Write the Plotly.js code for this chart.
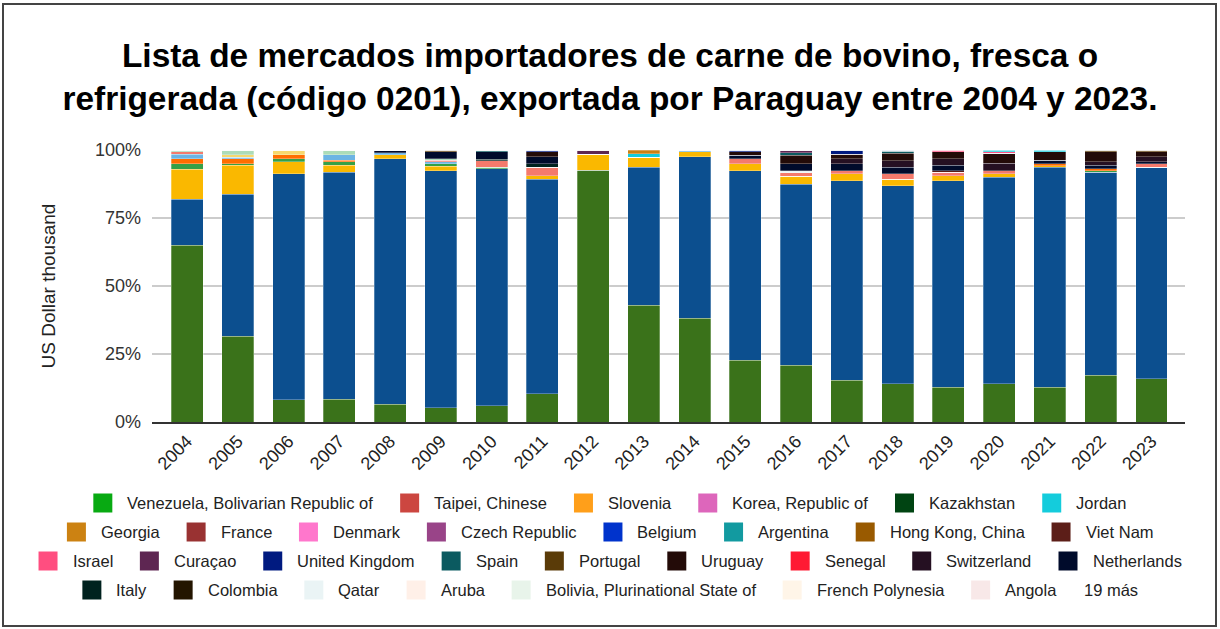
<!DOCTYPE html>
<html>
<head>
<meta charset="utf-8">
<script src="https://cdn.plot.ly/plotly-3.0.1.min.js"></script>
<style>
html,body{margin:0;padding:0;background:#ffffff;}
#chart{width:1220px;height:629px;}
</style>
</head>
<body>
<div id="chart"></div>
<script>
// ---------------- DATA (shares of each year's total, %) ----------------
const years = ['2004','2005','2006','2007','2008','2009','2010','2011','2012','2013',
               '2014','2015','2016','2017','2018','2019','2020','2021','2022','2023'];

// main markets (hidden inside "19 más")
const brazil      = [65.0,31.6, 8.1, 8.3, 6.5, 5.2, 5.9,10.3,92.6,43.0,38.2,22.7,20.8,15.3,14.1,12.7,14.1,12.7,17.2,15.9];
const chile       = [16.9,52.2,83.1,83.6,90.2,87.2,87.2,79.0, 0.0,50.6,59.3,69.7,66.7,73.4,72.8,76.0,75.8,80.9,74.6,77.7];
const russia      = [11.1,10.6, 4.4, 2.5, 1.5, 1.7, 0.0, 1.3, 5.9, 3.8, 1.8, 2.5, 2.9, 2.5, 2.4, 1.9, 1.3, 0.6, 0.0, 0.0];
const lebanon     = [ 1.9, 0.5, 1.1, 1.2, 0.0, 0.8, 0.5, 0.0, 0.0, 0.0, 0.0, 0.0, 0.0, 0.0, 0.0, 0.0, 0.0, 0.0, 0.5, 0.0];
const peru        = [ 1.8, 1.8, 1.5, 0.7, 0.0, 0.0, 0.0, 0.0, 0.0, 0.0, 0.0, 0.0, 0.0, 0.0, 0.0, 0.0, 0.0, 0.7, 0.8, 0.0];
const kuwait      = [ 1.8, 0.7, 0.0, 1.9, 0.8, 0.7, 0.0, 0.0, 0.0, 0.0, 0.7, 0.0, 0.0, 0.0, 0.0, 0.0, 0.0, 0.0, 0.0, 0.0];
const egypt       = [ 0.8, 0.0, 0.0, 0.0, 0.0, 0.7, 2.5, 3.0, 0.0, 0.0, 0.0, 1.8, 1.3, 1.2, 1.9, 1.3, 1.2, 0.0, 0.0, 1.3];
const ecuador     = [ 0.0, 0.8, 1.8, 0.0, 0.0, 0.0, 0.0, 0.0, 0.0, 0.0, 0.0, 0.0, 0.0, 0.0, 0.0, 0.0, 0.0, 0.0, 0.0, 0.0];
const mexico      = [ 0.7, 1.8, 0.0, 1.8, 0.0, 0.5, 0.0, 0.0, 0.0, 0.0, 0.0, 0.0, 0.0, 0.0, 0.0, 0.0, 0.0, 0.0, 0.0, 0.0];
// markets shown in the legend
const qatar       = [ 0,0,0,0,0,0,0,0,0,0,0,0,0.7,0,0,0,0,0,0,0];
const vietNam     = [ 0,0,0,0,0,0,0,0,0,0,0,0,0,0,0,0.5,0,0,0,0];
const italy       = [ 0,0,0,0,0,0,0.5,1.3,0,0,0,0,0,0,0,0,0,0,0,0];
const netherlands = [ 0,0,0,0,1.0,2.5,2.7,2.6,0,0,0,1.3,2.5,2.5,2.4,2.0,0,1.4,1.3,0.7];
const switzerland = [ 0,0,0,0,0,0,0,0,0,0,0,0,0,1.9,2.5,2.4,2.7,0,1.2,1.9];
const uruguay     = [ 0,0,0,0,0,0,0,1.8,0,0,0,1.3,3.1,1.7,2.7,2.5,3.7,3.0,3.7,1.8];
const spain       = [ 0,0,0,0,0,0,0.7,0,0,0,0,0,1.0,0,0.7,0,0,0,0,0];
const curacao     = [ 0,0,0,0,0,0,0,0,1.5,0,0,0,1.0,0,0,0,0,0,0,0];
const unitedKingdom=[ 0,0,0,0,0,0,0,0.7,0,0,0,0.7,0,1.5,0.5,0,0,0,0,0];
const portugal    = [ 0,0,0,0,0,0.7,0,0,0,0,0,0,0,0,0,0,0,0,0.7,0.7];
const israel      = [ 0,0,0,0,0,0,0,0,0,0,0,0,0,0,0,0.7,0.6,0,0,0];
const jordan      = [ 0,0,0,0,0,0,0,0,0,1.2,0,0,0,0,0,0,0.6,0.7,0,0];
const georgia     = [ 0,0,0,0,0,0,0,0,0,1.4,0,0,0,0,0,0,0,0,0,0];

// stacking order (bottom -> top)
const series = [
  ['Brazil', brazil], ['Chile', chile], ['Russian Federation', russia], ['Lebanon', lebanon],
  ['Peru', peru], ['Kuwait', kuwait], ['Egypt', egypt], ['Ecuador', ecuador], ['Mexico', mexico],
  ['Qatar', qatar], ['Viet Nam', vietNam], ['Italy', italy], ['Netherlands', netherlands],
  ['Switzerland', switzerland], ['Uruguay', uruguay], ['Spain', spain], ['Curaçao', curacao],
  ['United Kingdom', unitedKingdom], ['Portugal', portugal], ['Israel', israel],
  ['Jordan', jordan], ['Georgia', georgia]
];

// axis ticks
const yTickVals = [0, 25, 50, 75, 100];
const yTickText = ['0%', '25%', '50%', '75%', '100%'];

// legend rows as printed
const legendRow1 = ['Venezuela, Bolivarian Republic of','Taipei, Chinese','Slovenia','Korea, Republic of','Kazakhstan','Jordan'];
const legendRow2 = ['Georgia','France','Denmark','Czech Republic','Belgium','Argentina','Hong Kong, China','Viet Nam'];
const legendRow3 = ['Israel','Curaçao','United Kingdom','Spain','Portugal','Uruguay','Senegal','Switzerland','Netherlands'];
const legendRow4 = ['Italy','Colombia','Qatar','Aruba','Bolivia, Plurinational State of','French Polynesia','Angola'];
const moreLabel = '19 más';

const titleText = 'Lista de mercados importadores de carne de bovino, fresca o<br>refrigerada (código 0201), exportada por Paraguay entre 2004 y 2023.';
const yTitle = 'US Dollar thousand';

// ---------------- STYLES ----------------
const colors = {
  'Brazil':'#3a721a','Chile':'#0c4f8f','Russian Federation':'#fab800','Lebanon':'#35a047',
  'Peru':'#ff6d00','Kuwait':'#6cb4e4','Egypt':'#f47a6c','Ecuador':'#f6d86e','Mexico':'#acdcb8',
  'Venezuela, Bolivarian Republic of':'#08aa12','Taipei, Chinese':'#cc4640','Slovenia':'#ff9f1a',
  'Korea, Republic of':'#dd66bb','Kazakhstan':'#004412','Jordan':'#14ccdc','Georgia':'#cc8212',
  'France':'#993232','Denmark':'#ff77cc','Czech Republic':'#994488','Belgium':'#0033cc',
  'Argentina':'#129aa0','Hong Kong, China':'#995a00','Viet Nam':'#5c1e18','Israel':'#ff4e80',
  'Curaçao':'#5e2652','United Kingdom':'#001a80','Spain':'#0b5a60','Portugal':'#5a3b08',
  'Uruguay':'#230b08','Senegal':'#ff1a33','Switzerland':'#251022','Netherlands':'#000b2b',
  'Italy':'#00221f','Colombia':'#241500','Qatar':'#eaf4f5','Aruba':'#fff0e8',
  'Bolivia, Plurinational State of':'#e8f4ea','French Polynesia':'#fff5e8','Angola':'#f8e8e8'
};

const W = 1220, H = 629, ML = 152, MR = 35, MT = 150, MB = 207;
const PW = W - ML - MR, PH = H - MT - MB;
const px = x => (x - ML) / PW;
const py = y => (H - MB - y) / PH;
const FONT = 'Liberation Sans, Arial, sans-serif';
const LEG_SIZE = 16.5;

const traces = series.map(([name, vals]) => ({
  type: 'bar', name: name, x: years, y: vals,
  marker: {color: colors[name], line: {width: 0.8, color: 'rgba(255,255,255,0.35)'}},
  showlegend: false,
  hovertemplate: name + ': %{y:.1f}%<extra></extra>'
}));

// ---------------- manual centred legend ----------------
const ctx = document.createElement('canvas').getContext('2d');
ctx.font = LEG_SIZE + 'px "Liberation Sans"';
const MK = 19, G1 = 15, G2 = 27;
const shapes = [];
const annotations = [];
const rows = [legendRow1, legendRow2, legendRow3, legendRow4.concat([null])];
const rowY = [503, 532, 561, 590];
rows.forEach((row, ri) => {
  const items = row.map(n => n === null ? {t: moreLabel, mk: false} : {t: n, mk: true});
  items.forEach(it => { it.w = ctx.measureText(it.t).width; it.tw = (it.mk ? MK + G1 : 0) + it.w; });
  const total = items.reduce((s, it) => s + it.tw, 0) + G2 * (items.length - 1);
  let x = 610 - total / 2;
  const y = rowY[ri];
  items.forEach(it => {
    let tx = x;
    if (it.mk) {
      shapes.push({type: 'rect', xref: 'paper', yref: 'paper',
        x0: px(x), x1: px(x + MK), y0: py(y + MK / 2), y1: py(y - MK / 2),
        fillcolor: colors[it.t], line: {width: 0}});
      tx = x + MK + G1;
    }
    annotations.push({xref: 'paper', yref: 'paper', x: px(tx - 2), y: py(y), xanchor: 'left', yanchor: 'middle',
      text: it.t, showarrow: false, font: {family: FONT, size: LEG_SIZE, color: '#222'}});
    x += it.tw + G2;
  });
});

// outer frame
shapes.push({type: 'rect', xref: 'paper', yref: 'paper', x0: px(3), x1: px(1216), y0: py(626), y1: py(4),
  line: {color: '#444', width: 2}, fillcolor: 'rgba(0,0,0,0)', layer: 'above'});

const layout = {
  width: W, height: H,
  margin: {l: ML, r: MR, t: MT, b: MB, pad: 0},
  paper_bgcolor: '#ffffff', plot_bgcolor: '#ffffff',
  barmode: 'stack', barnorm: 'percent', bargap: 0.37,
  showlegend: false,
  font: {family: FONT, color: '#333'},
  title: {text: '<b>' + titleText + '</b>', x: 0.5, xanchor: 'center', xref: 'container',
          y: 1 - 67 / H, yanchor: 'middle', yref: 'container',
          font: {family: FONT, size: 33.4, color: '#000'}},
  xaxis: {type: 'category', range: [-0.69, 19.66], tickangle: -45, tickfont: {size: 18, color: '#222'},
          showline: true, linecolor: '#333', linewidth: 1.5, showgrid: false, ticks: '', fixedrange: true},
  yaxis: {range: [0, 100], tickmode: 'array', tickvals: yTickVals, ticktext: yTickText,
          tickfont: {size: 18, color: '#333'},
          gridcolor: '#cccccc', gridwidth: 1.5, zeroline: false, showline: false, ticks: '',
          ticklabelstandoff: 10,
          title: {text: yTitle, font: {size: 19, color: '#222'}, standoff: 34}},
  shapes: shapes,
  annotations: annotations
};

Plotly.newPlot('chart', traces, layout, {displayModeBar: false});
</script>
</body>
</html>
